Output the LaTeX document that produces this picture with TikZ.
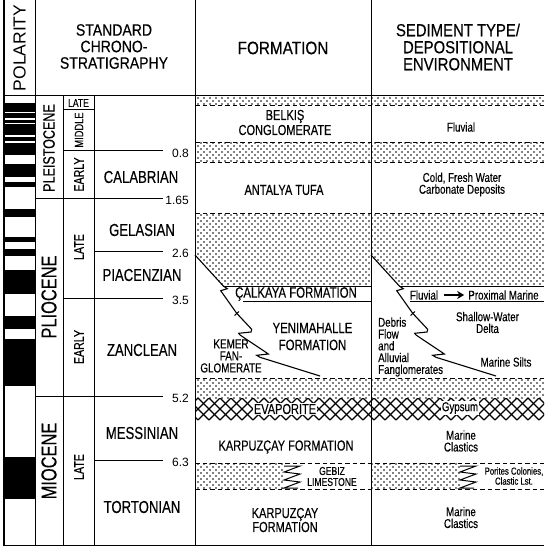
\documentclass[tikz,border=0pt]{standalone}
\usepackage{fontspec}
\setmainfont{Liberation Sans}[FakeStretch=0.76,FakeBold=0.3]
\newfontfamily\widefont{Liberation Sans}
\newfontfamily\hdrfont{Liberation Sans}[FakeStretch=0.85,FakeBold=0.3]
\usetikzlibrary{patterns,arrows.meta}
\pgfdeclarepatternformonly{stipple}{\pgfqpoint{-1pt}{-1pt}}{\pgfqpoint{5pt}{5pt}}{\pgfqpoint{6pt}{6pt}}{%
  \pgfpathcircle{\pgfqpoint{0pt}{0pt}}{0.85pt}%
  \pgfpathcircle{\pgfqpoint{3pt}{3pt}}{0.85pt}%
  \pgfusepath{fill}}
\newcommand{\fsz}[2]{\fontsize{#1}{#2}\selectfont}
\tikzset{
  rule/.style={line width=1pt},
  border/.style={line width=1.5pt},
  dline/.style={line width=0.9pt, dash pattern=on 4.5pt off 3pt},
  stip/.style={pattern=stipple},
  txt/.style={inner sep=0pt, align=center},
  hdr/.style={txt},
  stage/.style={txt, font=\fsz{17.3}{17}},
  epoch/.style={txt, rotate=90},
  sub/.style={txt, rotate=90, font=\fsz{14}{14}},
  age/.style={txt, anchor=east, font=\widefont\fsz{12}{12}},
  fm/.style={txt, font=\fsz{14.5}{15}},
  sed/.style={txt, font=\fsz{12.8}{11.8}},
  wavy/.style={line width=1.1pt},
  evap/.style={line width=1.1pt},
}
\begin{document}
\begin{tikzpicture}[x=1pt,y=-1pt]
\useasboundingbox (0,0) rectangle (544,548);
% ---------- stipple bands
\fill[stip] (195,96) rectangle (544,105);
\fill[stip] (195,142) rectangle (544,162);
\fill[stip] (195,213) -- (371,213) -- (371,286) -- (223.3,286) -- (195,255) -- cycle;
\fill[stip] (371,213) -- (544,213) -- (544,286) -- (399.3,286) -- (371,255) -- cycle;
\fill[stip] (195,378) rectangle (544,398);
\fill[stip] (195,463) rectangle (284,489);
\fill[stip] (371,463) rectangle (460,489);
% ---------- evaporite band
\begin{scope}
\clip (195,398) rectangle (544,420);
\foreach \i in {176,187,...,550} {
  \draw[evap] (\i,398) -- ++(22,22);
  \draw[evap] (\i,420) -- ++(22,-22);
}
\end{scope}
% ---------- polarity
\foreach \a/\b in {102.7/111.7, 113.3/118.3, 119.7/122.7, 124.3/135, 137/140.7, 142.7/155,
  164/177.3, 181.7/186.7, 209.3/216.7, 236.7/242.3, 249/256, 270/294, 316/329,
  339.3/386, 456.7/499.3}
  \fill (4.5,\a) rectangle (35,\b);
% ---------- frame
\draw[border] (4,0) -- (4,546);
\draw[rule] (35,0) -- (35,546);
\draw[rule] (195,0) -- (195,546);
\draw[rule] (371,0) -- (371,546);
\draw[rule] (4,96) -- (544,96);
\draw[border] (4,545.5) -- (544,545.5);
\draw[rule] (63,96) -- (63,546);
\draw[rule] (94,96) -- (94,546);
% ---------- time lines
\draw[rule] (63,110) -- (94,110);
\draw[rule] (63,150.7) -- (163,150.7);
\draw[rule] (35,198) -- (163,198);
\draw[rule] (94,251) -- (163,251);
\draw[rule] (63,298) -- (163,298);
\draw[rule] (35,396) -- (163,396);
\draw[rule] (94,460) -- (163,460);
% ---------- dashed boundaries
\foreach \y in {105,142,162,213,378,463,489}
  \draw[dline] (195,\y) -- (544,\y);
% ---------- Calkaya band lines
\draw[rule] (223,286) -- (371,286);
\draw[rule] (243,301.5) -- (371,301.5);
\draw[rule] (399,286) -- (544,286);
\draw[rule] (410,301.5) -- (544,301.5);
% ---------- interfingering boundaries
\foreach \s in {0,176} {
  \begin{scope}[xshift=\s pt]
  \draw[wavy] (195,255) -- (223.3,286) -- (227.3,288.7) -- (220.7,290.7) -- (236.7,313.3)
    -- (251.7,329.3) -- (251,332) -- (238.7,333.3) -- (240,335) -- (265,351.7)
    -- (268.3,354) -- (256.7,355.3) -- (260,357.3) -- (320,376);
  \draw[rule] (234.5,315.5) -- (239,311.5);
  \draw[rule] (284,466) -- (300,466) -- (284,472) -- (300,474) -- (284,480)
    -- (300,482) -- (284,488) -- (298,488);
  \end{scope}
}
% ---------- header
\node[hdr, font=\widefont\fsz{17.5}{17.5}, rotate=90] (pol) at (19.5,48) {POLARITY};
\node[hdr, font=\hdrfont\fsz{16.5}{16.5}] (chron) at (114,46.5) {STANDARD\\CHRONO-\\STRATIGRAPHY};
\node[hdr, font=\hdrfont\fsz{18}{18}] (formh) at (283,48) {FORMATION};
\node[hdr, font=\hdrfont\fsz{17.5}{17}] (sedh) at (458,47) {SEDIMENT TYPE/\\DEPOSITIONAL\\ENVIRONMENT};
% ---------- epochs
\node[epoch, font=\fsz{16.5}{16.5}] (ple) at (49,148) {PLEISTOCENE};
\node[epoch, font=\fsz{21.6}{21.6}] (pli) at (49,297) {PLIOCENE};
\node[epoch, font=\fsz{21.6}{21.6}] (mio) at (49,461) {MIOCENE};
% ---------- sub-epochs
\node[txt, font=\fsz{11.3}{11.3}] (late1) at (78.5,103) {LATE};
\node[sub, font=\fsz{12.2}{12.2}] (mid1) at (79,130) {MIDDLE};
\node[sub] (early1) at (79,174.5) {EARLY};
\node[sub] (late2) at (79,247) {LATE};
\node[sub] (early2) at (79,347) {EARLY};
\node[sub] (late3) at (79,467) {LATE};
% ---------- stages
\node[stage] (cal) at (141,177) {CALABRIAN};
\node[stage] (gel) at (142,230) {GELASIAN};
\node[stage] (pia) at (142,275) {PIACENZIAN};
\node[stage] (zan) at (142,350) {ZANCLEAN};
\node[stage] (mes) at (142,433) {MESSINIAN};
\node[stage] (tor) at (142,507) {TORTONIAN};
% ---------- ages
\node[age] (a1) at (189,153) {0.8};
\node[age] (a2) at (189,200) {1.65};
\node[age] (a3) at (189,253) {2.6};
\node[age] (a4) at (189,300) {3.5};
\node[age] (a5) at (189,398) {5.2};
\node[age] (a6) at (189,462) {6.3};
% ---------- formations
\node[fm] (bel) at (285,122.5) {BELKIŞ\\CONGLOMERATE};
\node[fm] (ant) at (284,190) {ANTALYA TUFA};
\node[fm, font=\fsz{15}{15}] (calk) at (296,294) {ÇALKAYA FORMATION};
\node[fm, font=\fsz{15}{17}] (yen) at (312.5,336.5) {YENIMAHALLE\\FORMATION};
\node[fm, font=\fsz{13}{12}] (kem) at (231,356) {KEMER\\FAN-\\GLOMERATE};
\node[fm, fill=white, inner sep=1pt] (eva) at (285,409) {EVAPORITE};
\node[fm] (kar1) at (286,447) {KARPUZÇAY FORMATION};
\node[fm, font=\fsz{11.3}{11}] (geb) at (332,476.5) {GEBIZ\\LIMESTONE};
\node[fm, font=\fsz{14.5}{14}] (kar2) at (285,520) {KARPUZÇAY\\FORMATION};
% ---------- sediments
\node[sed] (flu1) at (461,127) {Fluvial};
\node[sed] (cold) at (462,184.5) {Cold, Fresh Water\\Carbonate Deposits};
\node[sed] (flu2) at (424,295) {Fluvial};
\node[sed] (prox) at (503.5,295) {Proximal Marine};
\draw[line width=2.2pt, -{Stealth[length=7pt,width=8pt]}] ([xshift=6pt]flu2.east) -- ([xshift=-4pt]prox.west);
\node[sed] (shal) at (487.5,322.5) {Shallow-Water\\Delta};
\node[sed, align=left, anchor=west] (deb) at (378,347) {Debris\\Flow\\and\\Alluvial\\Fanglomerates};
\node[sed] (silt) at (506,362) {Marine Silts};
\node[sed, fill=white, inner sep=1pt] (gyp) at (460,408) {Gypsum};
\node[sed] (mc1) at (461,441) {Marine\\Clastics};
\node[sed, font=\fsz{10.2}{10}] (por) at (514,476) {Porites Colonies,\\Clastic Lst.};
\node[sed] (mc2) at (461,517.5) {Marine\\Clastics};
\end{tikzpicture}
\end{document}
